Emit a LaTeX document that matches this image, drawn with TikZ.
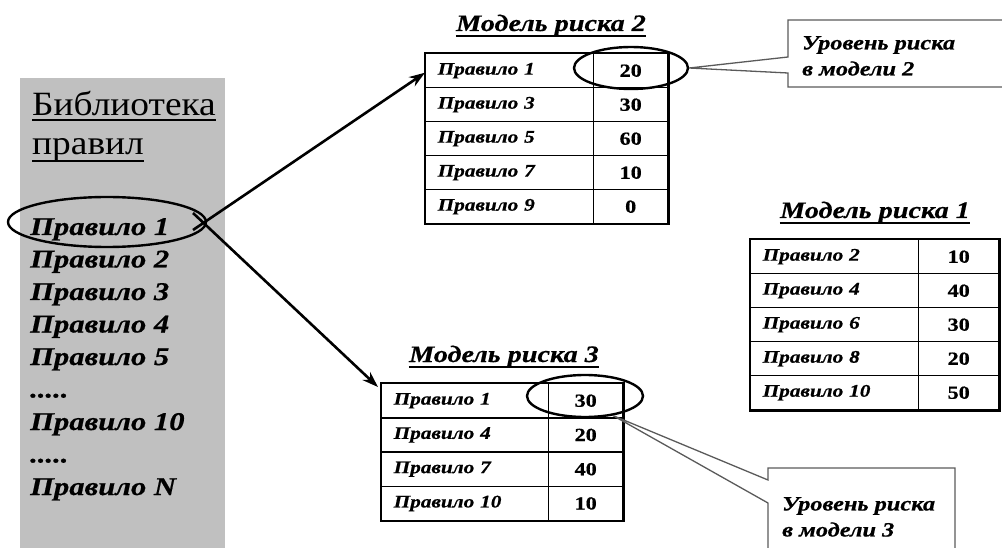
\documentclass[tikz,border=0pt]{standalone}
\usepackage{fontspec}
\setmainfont{Liberation Serif}
\newfontfamily\bifam[FakeStretch=1.2,FakeBold=0.6]{Liberation Serif}
\newfontfamily\regfam[FakeStretch=1.1]{Liberation Serif}
\usetikzlibrary{arrows.meta,shapes.geometric}
\definecolor{libgray}{RGB}{192,192,192}
\definecolor{callgray}{RGB}{90,90,90}
\newcommand{\fivedots}{.....}
\begin{document}
\begin{tikzpicture}[x=1pt,y=-1pt,
  libtitle/.style={font=\fontsize{34}{34}\selectfont\regfam, anchor=base west, inner sep=0},
  libitem/.style={font=\fontsize{25.5}{25.5}\selectfont\bifam\bfseries\itshape, anchor=base west, inner sep=0},
  ttitle/.style={font=\fontsize{23.5}{23.5}\selectfont\bifam\bfseries\itshape, anchor=base, inner sep=0},
  lcell/.style={draw, line width=1.4pt, anchor=north west, minimum height=34pt, inner ysep=0pt, inner xsep=12pt, align=left, font=\fontsize{17.7}{17.7}\selectfont\bifam\bfseries\itshape},
  rcell/.style={draw, line width=1.4pt, anchor=north west, minimum height=34pt, inner sep=0pt, font=\fontsize{18.5}{18.5}\selectfont\bifam\bfseries},
  outline/.style={line width=2.2pt},
  ring/.style={ellipse, draw, line width=2.4pt, inner sep=0pt},
  arr/.style={line width=2.6pt, -{Stealth[length=16pt,width=11pt]}},
  callout/.style={draw=callgray, line width=1.3pt, line join=miter},
  calltext/.style={font=\fontsize{20.3}{26}\selectfont\bifam\bfseries\itshape, anchor=north west, inner sep=0, align=left},
  uline/.style={line width=1.8pt}
]
\useasboundingbox (0,0) rectangle (1002,548);
% library panel
\fill[libgray] (20,78) rectangle (225,548);
\node[libtitle] (lt1) at (32,116) {Библиотека};
\node[libtitle] (lt2) at (32,155) {правил};
\draw[uline] ([yshift=-4pt]lt1.base west) -- ([yshift=-4pt]lt1.base east);
\draw[uline] ([yshift=-6pt]lt2.base west) -- ([yshift=-6pt]lt2.base east);
\foreach \t [count=\i from 0] in {Правило 1,Правило 2,Правило 3,Правило 4,Правило 5,\fivedots,Правило 10,\fivedots,Правило N}
  \node[libitem] (li\i) at (30,235+32.5*\i) {\t};
\node[ring, minimum width=198pt, minimum height=50pt] (e1) at (107,222) {};
\coordinate (s1) at (193,230);
\coordinate (s2) at (193,213);

% model 2 table
\node[ttitle] (t2) at (551,31) {Модель риска 2};
\foreach \r/\v [count=\i from 0] in {1/20,3/30,5/60,7/10,9/0} {
  \node[lcell, text width=144pt] (ma\i) at (425,53+34*\i) {Правило \r};
  \node[rcell, minimum width=74pt] (mb\i) at (593,53+34*\i) {\v};
}
\draw[outline] (ma0.north west) rectangle (mb4.south east);
\node[ring, minimum width=114pt, minimum height=42pt] (e2) at (631,68) {};

% model 1 table
\node[ttitle] (t1) at (875,218) {Модель риска 1};
\foreach \r/\v [count=\i from 0] in {2/10,4/40,6/30,8/20,10/50} {
  \node[lcell, text width=144pt] (na\i) at (750,239+34*\i) {Правило \r};
  \node[rcell, minimum width=80pt] (nb\i) at (918,239+34*\i) {\v};
}
\draw[outline] (na0.north west) rectangle (nb4.south east);

% model 3 table
\node[ttitle] (t3) at (504,362) {Модель риска 3};
\foreach \r/\v [count=\i from 0] in {1/30,4/20,7/40,10/10} {
  \node[lcell, text width=143pt] (pa\i) at (381,383+34.25*\i) {Правило \r};
  \node[rcell, minimum width=74pt] (pb\i) at (548,383+34.25*\i) {\v};
}
\draw[outline] (pa0.north west) rectangle (pb3.south east);
\node[ring, minimum width=116pt, minimum height=42pt] (e3) at (585,396) {};

% underlines of titles
\draw[uline] ([yshift=-5pt]t2.base west) -- ([yshift=-5pt]t2.base east);
\draw[uline] ([yshift=-5pt]t1.base west) -- ([yshift=-5pt]t1.base east);
\draw[uline] ([yshift=-5pt]t3.base west) -- ([yshift=-5pt]t3.base east);

% arrows
\draw[arr] (s1) -- ([yshift=-2pt]ma0.north west |- ma0.west);
\draw[arr] (s2) -- ([xshift=-3pt,yshift=-4pt]pa0.north west);

% callout 2
\coordinate (c2tip) at (e2.east);
\draw[callout] (1003,20) -- (788,20) -- (788,57) -- (c2tip) -- (788,73) -- (788,87) -- (1003,87);
\node[calltext] (ct2) at (802,36) {Уровень риска\\в модели 2};

% callout 3
\coordinate (c3tip) at (e3.-35);
\draw[callout] (768,552) -- (768,503) -- (c3tip) -- (768,480) -- (768,468) -- (955,468) -- (955,552);
\node[calltext] (ct3) at (782,497) {Уровень риска\\в модели 3};
\end{tikzpicture}
\end{document}
